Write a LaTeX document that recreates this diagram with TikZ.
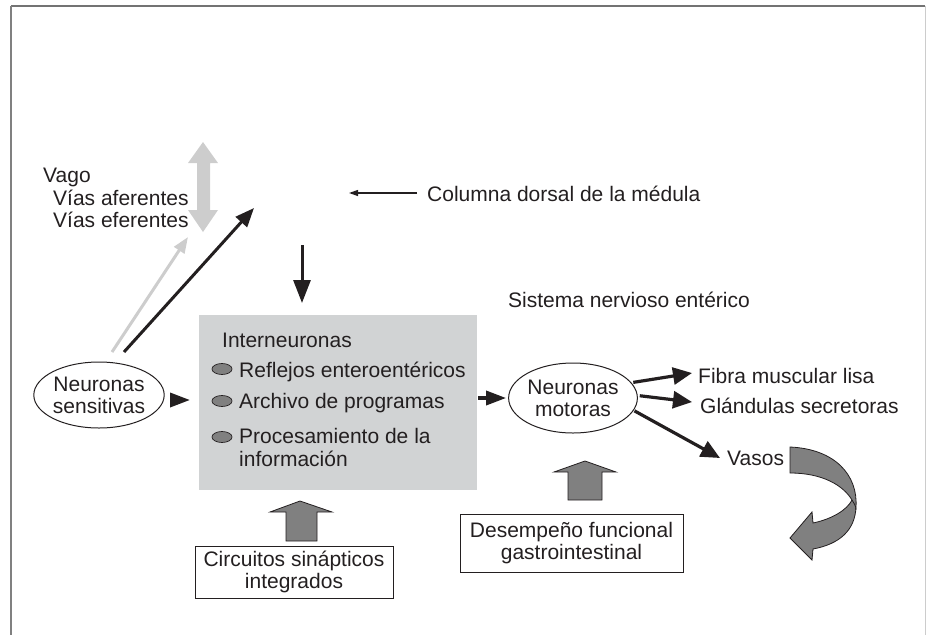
\documentclass[tikz,border=0pt]{standalone}
\usepackage{fontspec}
\setmainfont{Liberation Sans}
\usetikzlibrary{shapes.geometric,arrows.meta}
\definecolor{txt}{HTML}{231F20}
\definecolor{boxgray}{HTML}{D1D3D4}
\definecolor{midgray}{HTML}{808080}
\definecolor{pale}{HTML}{CDCDCD}
\begin{document}
\begin{tikzpicture}[x=1pt,y=-1pt,
  lbl/.style={font=\fontsize{21}{22}\selectfont, text=txt, inner sep=0pt},
  oval/.style={ellipse, draw=txt, line width=1pt, inner sep=0pt, align=center, lbl},
  framebox/.style={draw=txt, line width=1pt, inner sep=0pt, align=center, lbl},
  bigarr/.style={draw=txt, line width=3.2pt, -{Triangle[length=19pt,width=17pt]}},
  thinarr/.style={draw=txt, line width=1.2pt, -{Triangle[length=9pt,width=6pt]}},
  palearr/.style={draw=pale, line width=3pt, -{Triangle[length=16pt,width=12pt]}},
  blockarr/.style={fill=midgray, draw=txt, line width=0.8pt, line join=miter},
  bullet/.style={ellipse, fill=midgray, draw=txt, line width=0.7pt, minimum width=20pt, minimum height=11pt, inner sep=0pt}
]
\useasboundingbox (0,0) rectangle (926,635);
% frame
\draw[draw=black!55, line width=1.6pt] (11,6) -- (925,6);
\draw[draw=black!50, line width=1.2pt] (11,6) -- (11,635);
\draw[draw=black!20, line width=1pt] (925,6) -- (925,635);

% Vago double arrow
\fill[pale] (203,142) -- (218,163) -- (210,163) -- (210,210) -- (218,210) -- (203,232)
  -- (188,210) -- (197,210) -- (197,163) -- (188,163) -- cycle;
\node[lbl, anchor=base west] (vago) at (43,182) {Vago};
\node[lbl, anchor=base west] (aff) at (53,205) {Vías aferentes};
\node[lbl, anchor=base west] (eff) at (53,227) {Vías eferentes};

% Columna dorsal
\node[lbl, anchor=base west] (col) at (427,201) {Columna dorsal de la médula};
\coordinate (coltip) at (349,193);
\draw[thinarr] (col.west |- coltip) ++(-10,0) -- (coltip);

\node[lbl, anchor=base west] (sne) at (508,307) {Sistema nervioso entérico};

% Interneuronas box
\node[fill=boxgray, minimum width=278pt, minimum height=175pt, inner sep=0pt, anchor=north west] (inter) at (199,315) {};
\node[lbl, anchor=base west] (intt) at (222,347) {Interneuronas};
\node[bullet] (b1) at (222,369) {};
\node[bullet] (b2) at (222,401) {};
\node[bullet] (b3) at (222,437) {};
\node[lbl, anchor=base west] (refl) at (239,377) {Reflejos enteroentéricos};
\node[lbl, anchor=base west] (arch) at (239,408) {Archivo de programas};
\node[lbl, anchor=base west] (proc) at (239,443) {Procesamiento de la};
\node[lbl, anchor=base west] (info) at (239,466) {información};

% sensory neurons
\node[oval, minimum width=115pt, minimum height=66pt] (sens) at (99,395) {Neuronas\\sensitivas};
\coordinate (diagB) at (254,208);
\coordinate (diagG) at (188,237);
\draw[palearr] (112,352) -- (diagG);
\draw[bigarr, line width=3pt, -{Triangle[length=19pt,width=15pt]}] (124,352) -- (diagB);
\coordinate (downtop) at (302,245);
\draw[bigarr, line width=3pt, -{Triangle[length=23pt,width=17pt]}, shorten >=12pt] (downtop) -- (inter.north -| downtop);
\draw[bigarr, line width=3.5pt, -{Triangle[length=20pt,width=14pt]}, shorten <=6pt, shorten >=9pt] (sens.east |- 0,400) -- (inter.west |- 0,400);

% motor neurons
\node[oval, minimum width=116pt, minimum height=70pt] (motor) at (573,398) {Neuronas\\motoras};
\draw[bigarr, line width=3.5pt, -{Triangle[length=20pt,width=14pt]}, shorten <=1pt, shorten >=2pt] (inter.east |- motor.west) -- (motor.west);

\node[lbl, anchor=base west] (fibra) at (698,383) {Fibra muscular lisa};
\node[lbl, anchor=base west] (glan) at (700,413) {Glándulas secretoras};
\node[lbl, anchor=base west] (vasos) at (727,465) {Vasos};
\coordinate (tF) at (692,373);
\coordinate (tG) at (692,402);
\coordinate (tV) at (720,458);
\draw[bigarr] (motor.15) ++(2,0) -- (tF);
\draw[bigarr] (motor.2) ++(2,0) -- (tG);
\draw[bigarr] (motor.-12) ++(1,0) -- (tV);

% curved gray arrow
\path[blockarr] (790,447) .. controls (835,449) and (858,475) .. (856,507)
  .. controls (855,530) and (840,544) .. (813,549) -- (812,560) -- (790,538) -- (812,512) -- (813,523)
  .. controls (832,519) and (847,510) .. (852,500)
  .. controls (843,485) and (822,473) .. (790,473) -- cycle;
\draw[txt, line width=0.8pt] (852,500) .. controls (854,503) and (856,506) .. (856,510);

% bottom boxes
\node[framebox, minimum width=198pt, minimum height=52pt] (circ) at (294,572) {Circuitos sinápticos\\integrados};
\node[framebox, minimum width=223pt, minimum height=58pt] (desem) at (571.5,543) {Desempeño funcional\\gastrointestinal};

% block arrows
\path[blockarr] (300,501) -- (332,512) -- (317,512) -- (317,541) -- (286,541) -- (286,512) -- (270,512) -- cycle;
\path[blockarr] (585,461) -- (616,472) -- (602,472) -- (602,500) -- (568,500) -- (568,472) -- (554,472) -- cycle;
\end{tikzpicture}
\end{document}
